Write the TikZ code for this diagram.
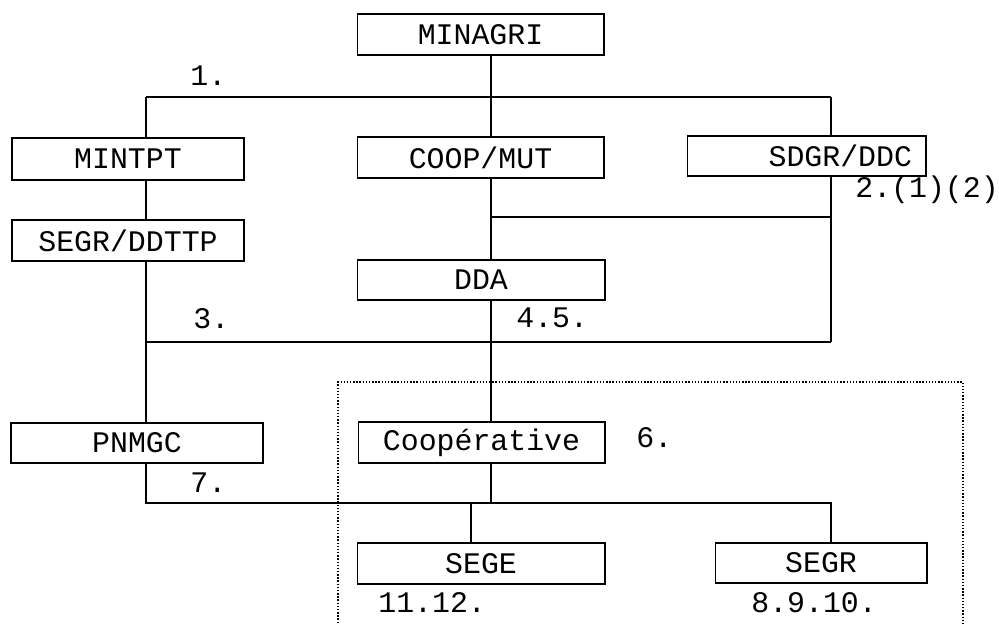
\documentclass[tikz,border=0pt]{standalone}
\usepackage{fontspec}
\setmainfont{Liberation Mono}
\begin{document}
\begin{tikzpicture}[x=0.02cm,y=-0.02cm,
    orgbox/.style={draw,line width=0.6pt,inner sep=0pt,minimum height=0.82cm,font=\fontsize{17}{20}\selectfont},
    tag/.style={inner sep=0pt,anchor=base west,font=\fontsize{17}{20}\selectfont},
    link/.style={line width=0.8pt},
    trunk/.style={line width=1.6pt}]
    \useasboundingbox (0,0) rectangle (999,623);

    % boites
    \node[orgbox,minimum width=4.94cm] (minagri) at (480.5,34.5) {MINAGRI};
    \node[orgbox,minimum width=4.64cm,minimum height=0.84cm] (mintpt) at (128,159) {MINTPT};
    \node[orgbox,minimum width=4.94cm] (coopmut) at (480.5,157.5) {COOP/MUT};
    \node[orgbox,text width=4.22cm,align=right,inner xsep=0.28cm,minimum height=0.8cm] (sdgr) at (806.5,156) {SDGR/DDC};
    \node[orgbox,minimum width=4.64cm] (segrddttp) at (128,240.5) {SEGR/DDTTP};
    \node[orgbox,minimum width=4.96cm,minimum height=0.8cm] (dda) at (481,280) {DDA};
    \node[orgbox,minimum width=5.04cm,minimum height=0.8cm] (pnmgc) at (137,443) {PNMGC};
    \node[orgbox,minimum width=4.94cm] (coopv) at (481.5,442.5) {Coopérative};
    \node[orgbox,minimum width=4.96cm] (sege) at (481,563.5) {SEGE};
    \node[orgbox,minimum width=4.24cm,minimum height=0.8cm] (segr) at (821,563) {SEGR};

    % points de raccord
    \coordinate (j1) at (491,97);
    \coordinate (l1) at (146,97);
    \coordinate (r1) at (831,97);
    \coordinate (j2) at (491,217);
    \coordinate (r2) at (831,217);
    \coordinate (l3) at (146,342);
    \coordinate (r3) at (831,342);
    \coordinate (l7) at (146,503);
    \coordinate (j7) at (491,503);
    \coordinate (r7) at (831,503);
    \coordinate (s7) at (471,503);

    % tronc central
    \draw[trunk] (minagri.south -| j1) -- (coopmut.north -| j1);
    \draw[trunk] (coopmut.south -| j1) -- (dda.north -| j1);
    \draw[trunk] (dda.south -| j1) -- (coopv.north -| j1);
    \draw[link] (coopv.south -| j1) -- (j7);

    % liaisons
    \draw[link] (l1) -- (r1);
    \draw[link] (l1) -- (mintpt.north -| l1);
    \draw[link] (r1) -- (sdgr.north -| r1);
    \draw[link] (mintpt.south -| l1) -- (segrddttp.north -| l1);
    \draw[link] (segrddttp.south -| l1) -- (pnmgc.north -| l1);
    \draw[link] (sdgr.south -| r1) -- (r3);
    \draw[link] (j2) -- (r2);
    \draw[link] (l3) -- (r3);
    \draw[link] (pnmgc.south -| l1) -- (l7) -- (r7) -- (segr.north -| r7);
    \draw[link] (s7) -- (sege.north -| s7);

    % cadre pointillé
    \draw[densely dotted,line width=0.8pt] (338,623) -- (338,382) -- (963,382) -- (963,623);

    % numéros
    \node[tag] (t1) at (190,85) {1.};
    \node[tag] (t2) at (855,197) {2.(1)(2)};
    \node[tag] (t3) at (193,328) {3.};
    \node[tag] (t45) at (516,327) {4.5.};
    \node[tag] (t6) at (636,447) {6.};
    \node[tag] (t7) at (190,492) {7.};
    \node[tag] (t1112) at (378,612) {11.12.};
    \node[tag] (t8910) at (751,612) {8.9.10.};
\end{tikzpicture}
\end{document}
